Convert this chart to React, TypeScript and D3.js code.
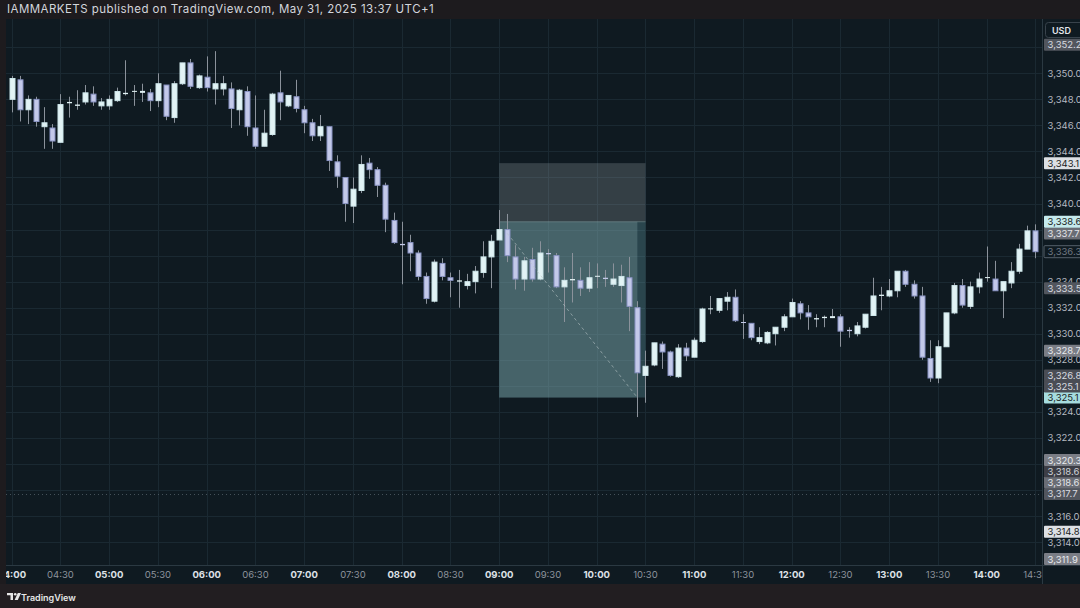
import React from 'react';
import * as d3 from 'd3';

// 5-minute bars starting at 04:00
const sessionStart = Date.UTC(2025, 4, 31, 4, 0);
const barMinutes = 5;

const opens = [
  3348.0, 3349.5, 3347.2, 3348.0, 3345.9, 3345.8, 3344.7, 3347.7, 3347.5, 3347.8,
  3348.4, 3347.5, 3347.5, 3347.9, 3348.4, 3348.6, 3348.5, 3348.5, 3347.9, 3349.1,
  3346.6, 3349.2, 3350.8, 3348.9, 3349.7, 3348.8, 3348.8, 3348.8, 3347.2, 3348.6,
  3345.8, 3344.4, 3345.3, 3348.5, 3347.5, 3348.2, 3347.2, 3346.2, 3345.2, 3345.9,
  3343.2, 3342.0, 3339.8, 3341.0, 3343.1, 3342.6, 3341.4, 3338.7, 3336.9, 3337.0,
  3336.2, 3334.4, 3332.5, 3335.4, 3334.3, 3334.0, 3333.7, 3334.0, 3334.7, 3335.9,
  3337.2, 3338.0, 3335.9, 3334.2, 3335.7, 3334.2, 3336.2, 3336.0, 3333.6, 3334.1,
  3334.1, 3333.5, 3334.4, 3334.3, 3333.8, 3333.7, 3334.3, 3332.0, 3326.8, 3327.6,
  3329.2, 3328.6, 3326.7, 3328.9, 3328.2, 3329.4, 3331.9, 3331.8, 3332.5, 3332.8,
  3330.9, 3330.8, 3329.4, 3329.3, 3330.0, 3330.5, 3331.3, 3332.3, 3331.6, 3331.1,
  3331.2, 3331.2, 3331.3, 3330.3, 3330.0, 3330.5, 3331.4, 3332.9, 3332.9, 3333.3,
  3334.8, 3333.8, 3332.9, 3328.1, 3326.6, 3329.0, 3331.6, 3333.7, 3332.1, 3333.6,
  3334.3, 3334.2, 3333.3, 3333.9, 3334.8, 3336.5, 3337.9,
];
const highs = [
  3349.8, 3349.8, 3348.3, 3348.2, 3347.4, 3346.1, 3348.4, 3348.2, 3348.7, 3349.1,
  3349.0, 3348.1, 3348.3, 3348.9, 3351.0, 3349.1, 3349.2, 3348.8, 3350.0, 3349.1,
  3349.4, 3350.8, 3351.1, 3349.9, 3351.3, 3351.7, 3349.8, 3349.3, 3348.8, 3349.0,
  3348.3, 3347.2, 3348.5, 3350.2, 3348.3, 3349.5, 3347.5, 3346.5, 3346.8, 3345.9,
  3343.7, 3342.0, 3342.0, 3343.7, 3343.5, 3342.8, 3341.6, 3339.3, 3338.6, 3337.6,
  3336.4, 3334.7, 3335.7, 3335.8, 3334.7, 3334.9, 3334.6, 3335.2, 3337.1, 3337.6,
  3339.5, 3339.2, 3336.8, 3335.9, 3336.6, 3337.1, 3336.5, 3336.2, 3335.1, 3336.2,
  3335.1, 3335.5, 3335.4, 3334.9, 3335.4, 3335.3, 3335.9, 3332.5, 3328.7, 3329.3,
  3329.4, 3328.7, 3329.2, 3329.3, 3329.7, 3332.0, 3332.9, 3332.7, 3333.2, 3333.4,
  3331.5, 3330.8, 3330.5, 3330.2, 3330.5, 3331.5, 3332.7, 3332.5, 3332.2, 3331.5,
  3331.4, 3331.9, 3331.5, 3330.5, 3330.9, 3331.5, 3334.3, 3333.6, 3334.2, 3334.8,
  3334.9, 3334.1, 3333.6, 3329.5, 3329.5, 3331.6, 3333.9, 3334.2, 3334.0, 3334.7,
  3336.7, 3335.6, 3334.0, 3335.5, 3336.9, 3338.3, 3338.4,
];
const lows = [
  3347.0, 3346.3, 3346.1, 3345.9, 3344.2, 3344.2, 3344.7, 3346.6, 3347.2, 3347.6,
  3347.5, 3347.2, 3347.2, 3347.8, 3348.3, 3347.5, 3347.8, 3347.1, 3347.4, 3346.4,
  3346.2, 3349.1, 3348.8, 3348.8, 3348.6, 3347.6, 3348.3, 3345.8, 3346.0, 3345.2,
  3344.2, 3344.4, 3345.2, 3346.4, 3347.4, 3347.0, 3345.4, 3344.8, 3344.8, 3342.5,
  3341.2, 3338.6, 3338.5, 3340.8, 3341.9, 3340.5, 3337.8, 3336.9, 3333.8, 3334.8,
  3334.1, 3332.3, 3332.4, 3334.1, 3332.8, 3332.0, 3333.4, 3333.1, 3334.3, 3333.5,
  3337.2, 3335.5, 3333.4, 3333.3, 3334.0, 3334.1, 3334.7, 3333.5, 3330.9, 3332.4,
  3332.9, 3333.2, 3333.5, 3333.6, 3333.6, 3332.4, 3330.2, 3323.6, 3324.7, 3327.5,
  3327.3, 3326.7, 3326.6, 3327.9, 3328.2, 3329.3, 3331.5, 3331.6, 3331.8, 3330.9,
  3329.6, 3329.5, 3329.2, 3329.2, 3329.1, 3330.2, 3331.3, 3331.1, 3330.3, 3330.5,
  3330.5, 3331.2, 3329.0, 3329.7, 3329.8, 3330.4, 3331.4, 3331.8, 3332.8, 3332.8,
  3333.6, 3332.7, 3328.0, 3326.3, 3326.2, 3329.0, 3331.5, 3332.0, 3331.9, 3333.1,
  3334.0, 3333.3, 3331.2, 3333.5, 3334.6, 3336.5, 3335.8,
];
const closes = [
  3349.6, 3347.2, 3348.0, 3346.3, 3346.2, 3344.8, 3347.6, 3347.8, 3347.6, 3348.5,
  3347.8, 3347.8, 3348.0, 3348.6, 3348.5, 3348.65, 3348.65, 3347.9, 3349.2, 3346.7,
  3349.2, 3350.8, 3349.0, 3349.8, 3348.9, 3349.2, 3349.2, 3347.3, 3348.7, 3345.9,
  3344.4, 3345.4, 3348.4, 3347.8, 3348.3, 3347.3, 3346.2, 3345.2, 3345.9, 3343.3,
  3342.1, 3340.0, 3341.1, 3343.0, 3342.6, 3341.4, 3338.8, 3337.0, 3336.8, 3336.2,
  3334.4, 3332.7, 3335.5, 3334.4, 3334.1, 3334.1, 3334.0, 3334.8, 3335.9, 3337.1,
  3338.0, 3336.0, 3334.2, 3335.6, 3334.2, 3336.2, 3336.1, 3333.6, 3334.1, 3334.2,
  3333.5, 3334.3, 3334.45, 3334.2, 3334.2, 3334.4, 3332.1, 3327.0, 3327.5, 3329.3,
  3328.6, 3326.8, 3328.9, 3328.3, 3329.5, 3331.9, 3331.95, 3332.7, 3332.8, 3331.0,
  3330.85, 3329.7, 3329.7, 3330.1, 3330.5, 3331.3, 3332.4, 3331.6, 3331.3, 3331.2,
  3331.3, 3331.35, 3330.2, 3330.2, 3330.6, 3331.5, 3332.9, 3333.0, 3333.3, 3334.8,
  3333.8, 3332.9, 3328.2, 3326.6, 3329.0, 3331.6, 3333.7, 3332.2, 3333.6, 3334.2,
  3334.35, 3333.3, 3334.0, 3334.8, 3336.5, 3337.9, 3336.3,
];

const timeTicks = [
  '04:00', '04:30', '05:00', '05:30', '06:00', '06:30', '07:00', '07:30', '08:00', '08:30',
  '09:00', '09:30', '10:00', '10:30', '11:00', '11:30', '12:00', '12:30', '13:00', '13:30',
  '14:00', '14:30',
];
const priceTicks = [
  3312, 3314, 3316, 3318, 3320, 3322, 3324, 3326, 3328, 3330, 3332,
  3334, 3336, 3338, 3340, 3342, 3344, 3346, 3348, 3350, 3352,
];

// Short position: entry / stop / target and the time span it covers
const positionEntry = 3338.6;
const positionStop = 3343.1;
const positionTarget = 3325.1;
const positionFrom = '09:00';
const positionTo = '10:30';
const positionExit = '10:25';
const tradePathStart = { time: '09:05', price: 3337.7 };
const tradePathEnd = { time: '10:25', price: 3325.1 };

const dottedLevel = 3317.7;

// Price-scale badges (value + kind of drawing they belong to)
const markerPrices = [
  3352.2, 3343.1, 3338.6, 3337.7, 3336.3, 3333.5, 3328.7, 3326.8,
  3325.1, 3325.1, 3320.3, 3318.6, 3318.6, 3317.7, 3314.8, 3311.9,
];
const markerKinds = [
  'levelB', 'stop', 'entry', 'levelC', 'last', 'levelB', 'levelD', 'levelA',
  'target', 'levelA', 'levelD', 'levelC', 'levelE', 'levelB', 'stop', 'levelD',
];

const header = 'IAMMARKETS published on TradingView.com, May 31, 2025 13:37 UTC+1';

const W = 1080;
const H = 608;
const plot = { left: 6, right: 1042, top: 19, bottom: 565 };
const FONT = 'Inter, Roboto, "Helvetica Neue", Arial, sans-serif';

const BG_OUTER = '#1d1b1e';
const BG_CHART = '#0f1a21';
const GRID = '#1a2932';

const badgeStyle: Record<string, { bg: string; fg: string; border?: string }> = {
  stop: { bg: '#dde0e4', fg: '#1a1d22' },
  entry: { bg: '#c5eaed', fg: '#1a1d22' },
  target: { bg: '#a6dcdf', fg: '#1a1d22' },
  last: { bg: '#0f1a21', fg: '#6f7882', border: '#56616b' },
  levelA: { bg: '#4a4d55', fg: '#d8dbe0' },
  levelB: { bg: '#52565e', fg: '#d8dbe0' },
  levelC: { bg: '#6a6d75', fg: '#e4e6ea' },
  levelD: { bg: '#7a7d85', fg: '#e8eaee' },
  levelE: { bg: '#3d3e46', fg: '#d0d3d8' },
};

const clock = (s: string) => {
  const [h, m] = s.split(':').map(Number);
  return new Date(Date.UTC(2025, 4, 31, h, m));
};

const fmt = d3.format(',.1f');

export default function App() {
  const x = d3
    .scaleUtc()
    .domain([new Date(sessionStart - 3.5 * 60000), new Date(sessionStart + 634 * 60000)])
    .range([plot.left, plot.right]);
  const y = d3.scaleLinear().domain([3312.24, 3354.17]).range([plot.bottom, plot.top]);

  const step = x(new Date(sessionStart + barMinutes * 60000)) - x(new Date(sessionStart));
  const bodyW = Math.round(step * 0.72);

  const bars = opens.map((o, i) => ({
    t: new Date(sessionStart + i * barMinutes * 60000),
    o,
    h: highs[i],
    l: lows[i],
    c: closes[i],
  }));

  // Stack the price badges so they don't overlap (bottom-up)
  const badgeH = 12;
  const badges = markerPrices
    .map((v, i) => ({ v, kind: markerKinds[i], i, y: y(v) }))
    .sort((a, b) => b.y - a.y || (a.kind === 'target' ? -1 : 1));
  let prev = Infinity;
  badges.forEach((b) => {
    let yy = Math.min(b.y, plot.bottom - badgeH / 2);
    yy = Math.min(yy, prev - 11);
    yy = Math.max(yy, plot.top + badgeH / 2);
    b.y = yy;
    prev = yy;
  });

  // Tick labels sitting right under a badge are hidden, as the price scale does
  const visibleTicks = priceTicks.filter((p) => {
    const py = y(p);
    if (py > plot.bottom - 4 || py < plot.top + 4) return false;
    return badges.every((b) => Math.abs(b.y - py) > 6);
  });

  const pxFrom = x(clock(positionFrom));
  const pxTo = x(clock(positionTo));
  const pxExit = x(clock(positionExit));

  return (
    <svg
      width={W}
      height={H}
      style={{ position: 'absolute', left: 0, top: 0, display: 'block' }}
      fontFamily={FONT}
    >
      <defs>
        <clipPath id="plotClip">
          <rect x={plot.left} y={plot.top} width={plot.right - plot.left} height={plot.bottom - plot.top} />
        </clipPath>
        <clipPath id="timeClip">
          <rect x={plot.left} y={plot.bottom} width={plot.right - plot.left} height={20} />
        </clipPath>
        <clipPath id="axisClip">
          <rect x={plot.right} y={plot.top} width={W - plot.right} height={plot.bottom - plot.top} />
        </clipPath>
      </defs>

      <rect x={0} y={0} width={W} height={H} fill={BG_OUTER} />
      <text x={7} y={13} fill="#d3d6dc" fontSize={11.5} letterSpacing={0.45}>
        {header}
      </text>

      {/* chart panel */}
      <rect x={plot.left} y={plot.top} width={W - plot.left} height={584 - plot.top} fill={BG_CHART} />

      <g clipPath="url(#plotClip)">
        {priceTicks.map((p) => (
          <line key={'h' + p} x1={plot.left} x2={plot.right} y1={Math.round(y(p)) + 0.5} y2={Math.round(y(p)) + 0.5} stroke={GRID} />
        ))}
        {timeTicks.map((t) => (
          <line key={'v' + t} x1={Math.round(x(clock(t))) + 0.5} x2={Math.round(x(clock(t))) + 0.5} y1={plot.top} y2={plot.bottom} stroke={GRID} />
        ))}

        <line
          x1={plot.left}
          x2={plot.right}
          y1={Math.round(y(dottedLevel)) + 0.5}
          y2={Math.round(y(dottedLevel)) + 0.5}
          stroke="#5d6972"
          strokeDasharray="1 3"
          opacity={0.7}
        />

        {/* position tool */}
        <rect x={pxFrom} y={y(positionStop)} width={pxTo - pxFrom} height={y(positionEntry) - y(positionStop)} fill="rgba(150,160,165,0.28)" />
        <rect x={pxFrom} y={y(positionEntry)} width={pxTo - pxFrom} height={y(positionTarget) - y(positionEntry)} fill="rgba(105,170,178,0.30)" />
        <rect x={pxFrom} y={y(positionEntry)} width={pxExit - pxFrom} height={y(positionTarget) - y(positionEntry)} fill="rgba(150,185,185,0.26)" />
        <line x1={pxFrom} x2={pxTo} y1={y(positionEntry)} y2={y(positionEntry)} stroke="rgba(170,200,200,0.35)" />

        {/* candles */}
        {bars.map((b, i) => {
          const cx = Math.round(x(b.t));
          const up = b.c >= b.o;
          const top = y(Math.max(b.o, b.c));
          const bot = y(Math.min(b.o, b.c));
          const hgt = Math.max(1, bot - top);
          return (
            <g key={i}>
              <line x1={cx + 0.5} x2={cx + 0.5} y1={y(b.h)} y2={y(b.l)} stroke="#8b929b" />
              <rect
                x={cx - bodyW / 2 + 1}
                y={top}
                width={bodyW - 1}
                height={hgt}
                fill={up ? '#e2f3f5' : '#c3c9e9'}
                stroke={up ? '#cde6ea' : '#8892c2'}
                strokeWidth={hgt > 2 ? 1 : 0}
              />
            </g>
          );
        })}

        <line
          x1={x(clock(tradePathStart.time))}
          y1={y(tradePathStart.price)}
          x2={x(clock(tradePathEnd.time))}
          y2={y(tradePathEnd.price)}
          stroke="#b7c4c6"
          strokeDasharray="3 3"
          opacity={0.6}
        />
      </g>

      {/* time axis */}
      <line x1={plot.left} x2={W} y1={plot.bottom + 0.5} y2={plot.bottom + 0.5} stroke="#2b3942" />
      <g clipPath="url(#timeClip)">
        {timeTicks.map((t) => {
          const hour = t.endsWith(':00');
          return (
            <text
              key={'t' + t}
              x={x(clock(t))}
              y={578}
              textAnchor="middle"
              fontSize={9.5}
              fontWeight={hour ? 700 : 400}
              fill={hour ? '#dfe2e7' : '#8d939c'}
            >
              {t}
            </text>
          );
        })}
      </g>

      {/* price axis */}
      <line x1={plot.right + 0.5} x2={plot.right + 0.5} y1={plot.top} y2={584} stroke="#2b3942" />
      <g clipPath="url(#axisClip)">
        {visibleTicks.map((p) => (
          <text key={'p' + p} x={1047.5} y={y(p) + 3.5} fontSize={9.5} fill="#b4b8c0">
            {fmt(p)}
          </text>
        ))}
        {badges.map((b) => {
          const st = badgeStyle[b.kind];
          return (
            <g key={'b' + b.i}>
              <rect
                x={plot.right + 2}
                y={b.y - badgeH / 2}
                width={W - plot.right}
                height={badgeH}
                fill={st.bg}
                stroke={st.border || 'none'}
                rx={1}
              />
              <text x={1047.5} y={b.y + 3.5} fontSize={9.5} fill={st.fg}>
                {fmt(b.v)}
              </text>
            </g>
          );
        })}
      </g>

      {/* currency box */}
      <rect x={1045.5} y={22.5} width={40} height={15} rx={3} fill={BG_CHART} stroke="#39434c" />
      <text x={1052} y={33.5} fontSize={9} fontWeight={600} fill="#e3e6ea">
        USD
      </text>

      {/* bottom strip */}
      <rect x={0} y={584} width={W} height={H - 584} fill="#221e21" />
      <g transform="translate(7,593)" fill="#e6e6e6">
        <path d="M0 0 H6 V7 H3.5 V2.2 H0 Z" />
        <circle cx={8.2} cy={1.3} r={1.3} />
        <path d="M10.8 0 H14 L10.8 7 H7.6 Z" />
      </g>
      <text x={21} y={601} fontSize={9} fontWeight={600} fill="#e6e6e6">
        TradingView
      </text>
    </svg>
  );
}
